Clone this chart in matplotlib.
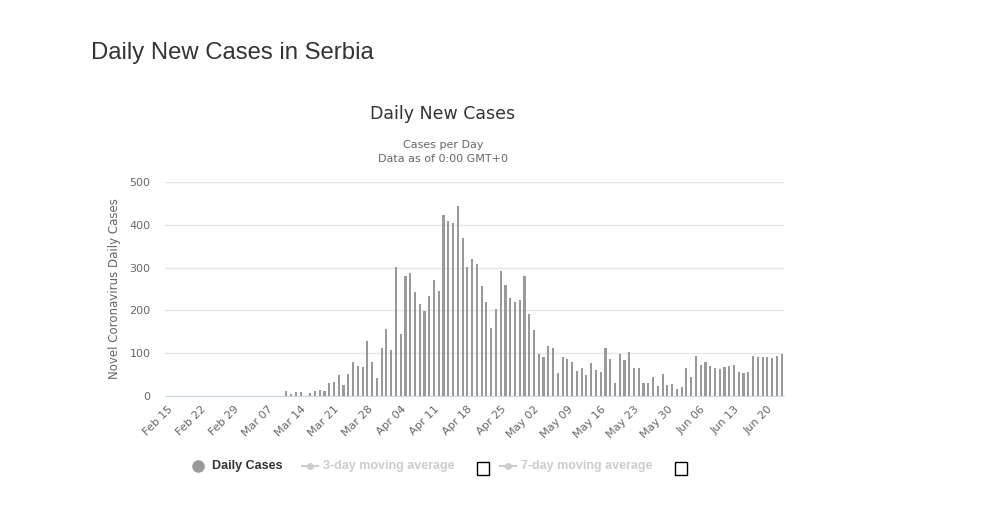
import numpy as np
import pandas as pd
import matplotlib
matplotlib.use("Agg")
import matplotlib.pyplot as plt
from matplotlib.lines import Line2D
from matplotlib.patches import Rectangle

# ── data ──────────────────────────────────────────────────────────────────────
DATES = pd.date_range("2020-02-15", "2020-06-23", freq="D")

# daily new cases (Feb 15 .. Mar 10 show nothing)
CASES = [0] * 25 + [
    12, 5, 9, 9, 0, 7, 12, 14, 12, 30, 33, 49, 26, 52, 80, 70, 68, 129,
    80, 42, 112, 157, 108, 302, 145, 281, 288, 244, 216, 199, 234, 272, 246,
    422, 408, 405, 443, 368, 302, 321, 309, 258, 220, 159, 204, 293, 260,
    230, 220, 225, 281, 192, 155, 98, 91, 117, 112, 54, 91, 87,
    80, 59, 66, 49, 77, 61, 56, 112, 87, 30, 98, 84, 103, 66, 66, 30, 30,
    45, 23, 52, 26, 28, 16, 21, 66, 45, 94, 73, 80, 70, 66, 63, 68, 70, 73,
    56, 54, 56, 94, 91, 91, 91, 89, 94, 98,
]

TICK_LABELS = ["Feb 15", "Feb 22", "Feb 29", "Mar 07", "Mar 14", "Mar 21",
               "Mar 28", "Apr 04", "Apr 11", "Apr 18", "Apr 25", "May 02",
               "May 09", "May 16", "May 23", "May 30", "Jun 06", "Jun 13",
               "Jun 20"]
Y_TICKS = [0, 100, 200, 300, 400, 500]

# ── figure ────────────────────────────────────────────────────────────────────
fig = plt.figure(figsize=(10, 5.15), dpi=100)
W, H = 1000, 515
ax = fig.add_axes([165 / W, 1 - 396 / H, 619 / W, 214 / H])

x = np.arange(len(DATES))
ax.bar(x, CASES, width=0.45, color="#999999", zorder=3)

ax.set_xlim(-0.5, len(DATES) - 0.5)
ax.set_ylim(0, 500)
ax.set_yticks(Y_TICKS)
ax.set_yticklabels([str(t) for t in Y_TICKS], color="#666666", fontsize=8,
                   family="DejaVu Sans")
ax.tick_params(axis="y", length=0, pad=10.5)
ax.grid(axis="y", color="#e6e6e6", linewidth=1, zorder=0)

ax.set_xticks(x[::7])
ax.set_xticklabels(TICK_LABELS, rotation=45, ha="right", va="top",
                   rotation_mode="anchor", color="#666666", fontsize=8,
                   family="DejaVu Sans")
ax.tick_params(axis="x", length=0, pad=6)

for s in ["top", "right", "left"]:
    ax.spines[s].set_visible(False)
ax.spines["bottom"].set_color("#ccd6eb")
ax.spines["bottom"].set_zorder(4)

ax.set_ylabel("Novel Coronavirus Daily Cases", color="#666666", fontsize=8.5,
              family="DejaVu Sans", labelpad=6)

# ── titles ────────────────────────────────────────────────────────────────────
fig.text(91 / W, 1 - 53 / H, "Daily New Cases in Serbia", fontsize=17.2,
         color="#333333", family="Liberation Sans", va="center", ha="left")
fig.text(443 / W, 1 - 114 / H, "Daily New Cases", fontsize=12.5,
         color="#333333", family="DejaVu Sans", va="center", ha="center")
fig.text(443 / W, 1 - 145 / H, "Cases per Day", fontsize=8,
         color="#666666", family="DejaVu Sans", va="center", ha="center")
fig.text(443 / W, 1 - 159 / H, "Data as of 0:00 GMT+0", fontsize=8,
         color="#666666", family="DejaVu Sans", va="center", ha="center")

# ── legend (drawn by hand, Highcharts style) ─────────────────────────────────
ly = 1 - 466 / H
fig.add_artist(Line2D([198 / W], [ly], marker="o", markersize=8,
                      color="#999999", transform=fig.transFigure))
fig.text(212 / W, ly, "Daily Cases", fontsize=9, fontweight="bold",
         color="#333333", family="Liberation Sans", va="center")

for x0, label, box_x in [(302, "3-day moving average", 477),
                         (500, "7-day moving average", 675)]:
    fig.add_artist(Line2D([x0 / W, (x0 + 16) / W], [ly, ly], color="#cccccc",
                          linewidth=1.5, transform=fig.transFigure))
    fig.add_artist(Line2D([(x0 + 8) / W], [ly], marker="o", markersize=4,
                          color="#cccccc", transform=fig.transFigure))
    fig.text((x0 + 21) / W, ly, label, fontsize=9, fontweight="bold",
             color="#cccccc", family="Liberation Sans", va="center")
    fig.add_artist(Rectangle((box_x / W, 1 - 475 / H), 12 / W, 13 / H,
                             fill=False, edgecolor="#000000", linewidth=1,
                             transform=fig.transFigure))

fig.savefig("out.png", dpi=100)
